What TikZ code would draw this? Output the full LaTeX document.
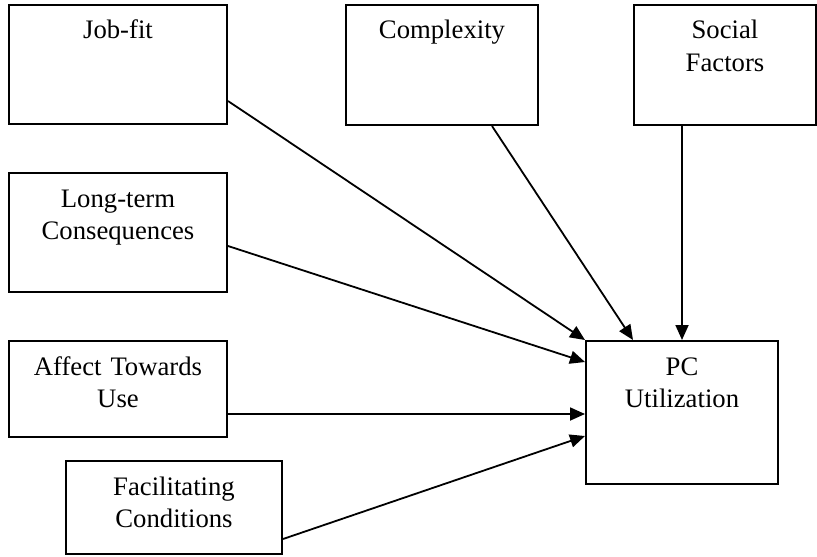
\documentclass[tikz,border=0pt]{standalone}
\usepackage{fontspec}
\setmainfont{Liberation Serif}
\usetikzlibrary{arrows.meta,calc}

\begin{document}
\begin{tikzpicture}[
    x=0.5pt, y=-0.5pt,
    factor/.style={rectangle, draw, line width=1pt, anchor=north west, inner xsep=0pt, inner ysep=0pt, align=center, text height=17pt, font=\fontsize{13.35pt}{16.25pt}\selectfont},
    arrow/.style={-{Triangle[length=7.5pt,width=6.5pt]}, line width=0.9pt}
]
\useasboundingbox (0,0) rectangle (817,556);

\node[factor, text width=109pt, text depth=42.5pt] (jobfit) at (8,4) {Job-fit};
\node[factor, text width=96pt, text depth=43pt] (complexity) at (345,4) {Complexity};
\node[factor, text width=91pt, text depth=43pt] (social) at (633,4) {Social\\Factors};
\node[factor, text width=109pt, text depth=42.5pt] (longterm) at (8,172) {Long-term\\Consequences};
\node[factor, text width=109pt, text depth=31pt] (affect) at (8,340) {Affect Towards\\Use};
\node[factor, text width=108pt, text depth=29.5pt] (facil) at (65,460) {Facilitating\\Conditions};
\node[factor, text width=96pt, text depth=54.5pt] (pc) at (585,340) {PC\\Utilization};

\draw[arrow] ($(jobfit.south east)+(0,-24)$) -- (pc.north west);
\draw[arrow] ($(complexity.south east)+(-47,0)$) -- ($(pc.north west)+(48,0)$);
\draw[arrow] (social.south -| pc.north) -- (pc.north);
\draw[arrow] ($(longterm.south east)+(0,-47)$) -- ($(pc.north west)+(0,22)$);
\draw[arrow] ($(affect.south east)+(0,-24)$) coordinate (affectout) -- (affectout -| pc.west);
\draw[arrow] ($(facil.south east)+(0,-16)$) -- ($(pc.north west)+(0,96)$);
\end{tikzpicture}
\end{document}
